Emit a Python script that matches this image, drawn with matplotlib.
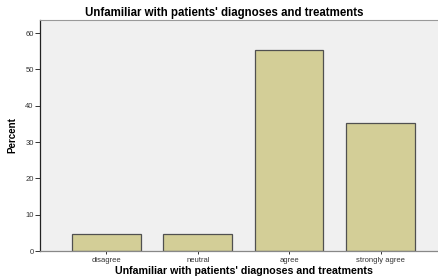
import matplotlib
matplotlib.use("Agg")
import matplotlib.pyplot as plt

categories = ["disagree", "neutral", "agree", "strongly agree"]
percent = [4.7, 4.7, 55.3, 35.3]
yticks = [0, 10, 20, 30, 40, 50, 60]

title = "Unfamiliar with patients' diagnoses and treatments"

plt.rcParams['font.family'] = ['Liberation Sans', 'DejaVu Sans']

fig = plt.figure(figsize=(4.39, 2.78), dpi=100)
ax = fig.add_axes([0.0911, 0.097, 0.95, 0.831])
ax.set_facecolor('#f0f0f0')

x = range(len(categories))
ax.bar(x, percent, width=0.75, color='#d3ce97', edgecolor='#505050', linewidth=0.9)

ax.set_xlim(-0.726, 3.836)
ax.set_ylim(0, 63.6)
ax.set_xticks(list(x))
ax.set_xticklabels(categories, fontsize=5.5, color='#333333')
ax.set_yticks(yticks)
ax.set_yticklabels([str(v) for v in yticks], fontsize=5.5, color='#333333')

ax.tick_params(axis='y', direction='out', length=3.5, width=0.7, color='#333333', pad=1)
ax.tick_params(axis='x', direction='out', length=2.5, width=0.7, color='#333333', pad=2)

ax.spines['left'].set_color('#222222')
ax.spines['left'].set_linewidth(0.9)
ax.spines['bottom'].set_color('#888888')
ax.spines['bottom'].set_linewidth(0.9)
ax.spines['top'].set_color('#999999')
ax.spines['top'].set_linewidth(0.8)
ax.spines['right'].set_visible(False)

fig.text(224.5 / 439, 0.953, title, ha='center', va='center', fontsize=8.3, fontweight='bold')
ax.set_xlabel(title, fontsize=7.7, fontweight='bold')
ax.set_ylabel("Percent", fontsize=7, fontweight='bold', labelpad=6)
ax.xaxis.set_label_coords((243.5 - 40) / (0.95 * 439), -0.066)

fig.savefig("out.png", dpi=100)
